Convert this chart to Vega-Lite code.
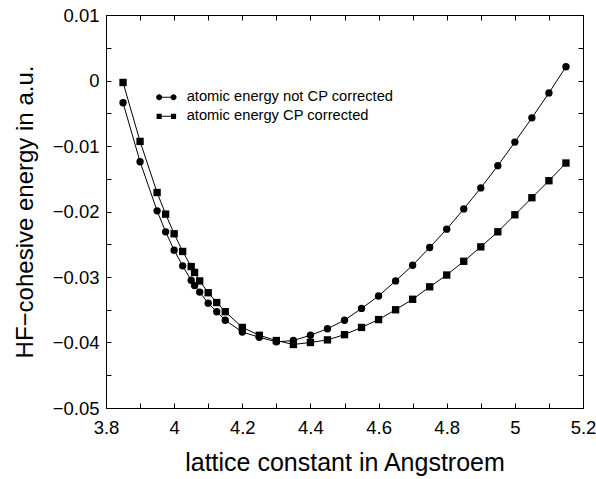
{
  "$schema": "https://vega.github.io/schema/vega-lite/v6.json",
  "width": 477,
  "height": 393,
  "autosize": {"type": "none"},
  "padding": {"left": 106, "top": 15, "right": 13, "bottom": 71},
  "background": "white",
  "config": {
    "font": "Liberation Sans",
    "view": {"stroke": "black", "strokeWidth": 1},
    "axis": {"grid": false, "domain": false, "tickColor": "black", "labelColor": "black", "titleColor": "black", "labelFont": "Liberation Sans", "titleFont": "Liberation Sans", "titleFontWeight": "normal", "labelFontSize": 18.5, "titleFontSize": 25, "tickSize": 5, "offset": -5}
  },
  "data": {"values": [
    {"a": 3.85, "e": -0.0034, "s": "atomic energy not CP corrected"},
    {"a": 3.9, "e": -0.0124, "s": "atomic energy not CP corrected"},
    {"a": 3.95, "e": -0.0199, "s": "atomic energy not CP corrected"},
    {"a": 3.975, "e": -0.0231, "s": "atomic energy not CP corrected"},
    {"a": 4.0, "e": -0.0259, "s": "atomic energy not CP corrected"},
    {"a": 4.025, "e": -0.0283, "s": "atomic energy not CP corrected"},
    {"a": 4.05, "e": -0.0305, "s": "atomic energy not CP corrected"},
    {"a": 4.06, "e": -0.0313, "s": "atomic energy not CP corrected"},
    {"a": 4.075, "e": -0.0323, "s": "atomic energy not CP corrected"},
    {"a": 4.1, "e": -0.034, "s": "atomic energy not CP corrected"},
    {"a": 4.125, "e": -0.0353, "s": "atomic energy not CP corrected"},
    {"a": 4.15, "e": -0.0366, "s": "atomic energy not CP corrected"},
    {"a": 4.2, "e": -0.0384, "s": "atomic energy not CP corrected"},
    {"a": 4.25, "e": -0.0392, "s": "atomic energy not CP corrected"},
    {"a": 4.3, "e": -0.0399, "s": "atomic energy not CP corrected"},
    {"a": 4.35, "e": -0.0397, "s": "atomic energy not CP corrected"},
    {"a": 4.4, "e": -0.0389, "s": "atomic energy not CP corrected"},
    {"a": 4.45, "e": -0.0379, "s": "atomic energy not CP corrected"},
    {"a": 4.5, "e": -0.0366, "s": "atomic energy not CP corrected"},
    {"a": 4.55, "e": -0.0348, "s": "atomic energy not CP corrected"},
    {"a": 4.6, "e": -0.0329, "s": "atomic energy not CP corrected"},
    {"a": 4.65, "e": -0.0306, "s": "atomic energy not CP corrected"},
    {"a": 4.7, "e": -0.0282, "s": "atomic energy not CP corrected"},
    {"a": 4.75, "e": -0.0255, "s": "atomic energy not CP corrected"},
    {"a": 4.8, "e": -0.0227, "s": "atomic energy not CP corrected"},
    {"a": 4.85, "e": -0.0196, "s": "atomic energy not CP corrected"},
    {"a": 4.9, "e": -0.0164, "s": "atomic energy not CP corrected"},
    {"a": 4.95, "e": -0.013, "s": "atomic energy not CP corrected"},
    {"a": 5.0, "e": -0.0094, "s": "atomic energy not CP corrected"},
    {"a": 5.05, "e": -0.0057, "s": "atomic energy not CP corrected"},
    {"a": 5.1, "e": -0.0019, "s": "atomic energy not CP corrected"},
    {"a": 5.15, "e": 0.0021, "s": "atomic energy not CP corrected"},
    {"a": 3.85, "e": -0.0003, "s": "atomic energy CP corrected"},
    {"a": 3.9, "e": -0.0093, "s": "atomic energy CP corrected"},
    {"a": 3.95, "e": -0.0171, "s": "atomic energy CP corrected"},
    {"a": 3.975, "e": -0.0204, "s": "atomic energy CP corrected"},
    {"a": 4.0, "e": -0.0234, "s": "atomic energy CP corrected"},
    {"a": 4.025, "e": -0.0261, "s": "atomic energy CP corrected"},
    {"a": 4.05, "e": -0.0284, "s": "atomic energy CP corrected"},
    {"a": 4.06, "e": -0.0293, "s": "atomic energy CP corrected"},
    {"a": 4.075, "e": -0.0306, "s": "atomic energy CP corrected"},
    {"a": 4.1, "e": -0.0324, "s": "atomic energy CP corrected"},
    {"a": 4.125, "e": -0.0339, "s": "atomic energy CP corrected"},
    {"a": 4.15, "e": -0.0353, "s": "atomic energy CP corrected"},
    {"a": 4.2, "e": -0.0377, "s": "atomic energy CP corrected"},
    {"a": 4.25, "e": -0.0389, "s": "atomic energy CP corrected"},
    {"a": 4.3, "e": -0.0397, "s": "atomic energy CP corrected"},
    {"a": 4.35, "e": -0.0403, "s": "atomic energy CP corrected"},
    {"a": 4.4, "e": -0.04, "s": "atomic energy CP corrected"},
    {"a": 4.45, "e": -0.0396, "s": "atomic energy CP corrected"},
    {"a": 4.5, "e": -0.0388, "s": "atomic energy CP corrected"},
    {"a": 4.55, "e": -0.0377, "s": "atomic energy CP corrected"},
    {"a": 4.6, "e": -0.0365, "s": "atomic energy CP corrected"},
    {"a": 4.65, "e": -0.035, "s": "atomic energy CP corrected"},
    {"a": 4.7, "e": -0.0334, "s": "atomic energy CP corrected"},
    {"a": 4.75, "e": -0.0315, "s": "atomic energy CP corrected"},
    {"a": 4.8, "e": -0.0297, "s": "atomic energy CP corrected"},
    {"a": 4.85, "e": -0.0276, "s": "atomic energy CP corrected"},
    {"a": 4.9, "e": -0.0254, "s": "atomic energy CP corrected"},
    {"a": 4.95, "e": -0.0231, "s": "atomic energy CP corrected"},
    {"a": 5.0, "e": -0.0205, "s": "atomic energy CP corrected"},
    {"a": 5.05, "e": -0.0179, "s": "atomic energy CP corrected"},
    {"a": 5.1, "e": -0.0153, "s": "atomic energy CP corrected"},
    {"a": 5.15, "e": -0.0126, "s": "atomic energy CP corrected"}
  ]},
  "layer": [
    {
      "mark": {"type": "line", "color": "black", "strokeWidth": 1},
      "encoding": {
        "x": {"field": "a", "type": "quantitative", "scale": {"domain": [3.8, 5.2], "nice": false, "zero": false},
          "axis": {"orient": "bottom", "title": "lattice constant in Angstroem", "titlePadding": 14,
            "values": [3.8, 3.9, 4.0, 4.1, 4.2, 4.3, 4.4, 4.5, 4.6, 4.7, 4.8, 4.9, 5.0, 5.1, 5.2],
            "labelExpr": "round(datum.value*10)%2==0 ? format(datum.value,'~g') : ''",
            "labelPadding": 10, "labelFlush": false}},
        "y": {"field": "e", "type": "quantitative", "scale": {"domain": [-0.05, 0.01], "nice": false, "zero": false},
          "axis": {"orient": "left", "title": "HF−cohesive energy in a.u.", "titleFontSize": 24, "titlePadding": 15,
            "values": [-0.05, -0.045, -0.04, -0.035, -0.03, -0.025, -0.02, -0.015, -0.01, -0.005, 0, 0.005, 0.01],
            "labelExpr": "round(datum.value*200)%2==0 ? format(datum.value,'.2~f') : ''",
            "labelPadding": 7, "labelFlush": false}},
        "detail": {"field": "s", "type": "nominal"}
      }
    },
    {
      "mark": {"type": "point", "filled": true, "color": "black", "opacity": 1, "size": 54},
      "encoding": {
        "x": {"field": "a", "type": "quantitative",
          "axis": {"orient": "top", "title": null, "labels": false,
            "values": [3.8, 3.9, 4.0, 4.1, 4.2, 4.3, 4.4, 4.5, 4.6, 4.7, 4.8, 4.9, 5.0, 5.1, 5.2]}},
        "y": {"field": "e", "type": "quantitative",
          "axis": {"orient": "right", "title": null, "labels": false,
            "values": [-0.05, -0.045, -0.04, -0.035, -0.03, -0.025, -0.02, -0.015, -0.01, -0.005, 0, 0.005, 0.01]}},
        "shape": {"field": "s", "type": "nominal",
          "scale": {"domain": ["atomic energy not CP corrected", "atomic energy CP corrected"], "range": ["circle", "square"]},
          "legend": null}
      }
    },
    {
      "mark": {"type": "point", "filled": true, "fill": "black", "opacity": 0, "size": 36},
      "encoding": {
        "x": {"field": "a", "type": "quantitative", "axis": null},
        "y": {"field": "e", "type": "quantitative", "axis": null},
        "shape": {"field": "s", "type": "nominal",
          "scale": {"domain": ["atomic energy not CP corrected", "atomic energy CP corrected"],
            "range": ["M-3.4,0A1,1,0,1,1,-1.4,0A1,1,0,1,1,-3.4,0ZM1.4,0A1,1,0,1,1,3.4,0A1,1,0,1,1,1.4,0ZM-2.4,-0.16H2.4V0.16H-2.4Z", "M-3.25,-0.85H-1.55V0.85H-3.25ZM1.55,-0.85H3.25V0.85H1.55ZM-2.4,-0.16H2.4V0.16H-2.4Z"]},
          "legend": {"title": null, "orient": "none", "legendX": 53, "legendY": 75, "labelFontSize": 14.7, "labelFont": "Liberation Sans", "labelColor": "black", "labelLimit": 0,
            "symbolSize": 36, "symbolOpacity": 1, "symbolFillColor": "black", "labelOffset": 13, "rowPadding": 3, "padding": 0}}
      }
    }
  ],
  "resolve": {"axis": {"x": "independent", "y": "independent"}, "scale": {"shape": "independent"}, "legend": {"shape": "independent"}}
}
